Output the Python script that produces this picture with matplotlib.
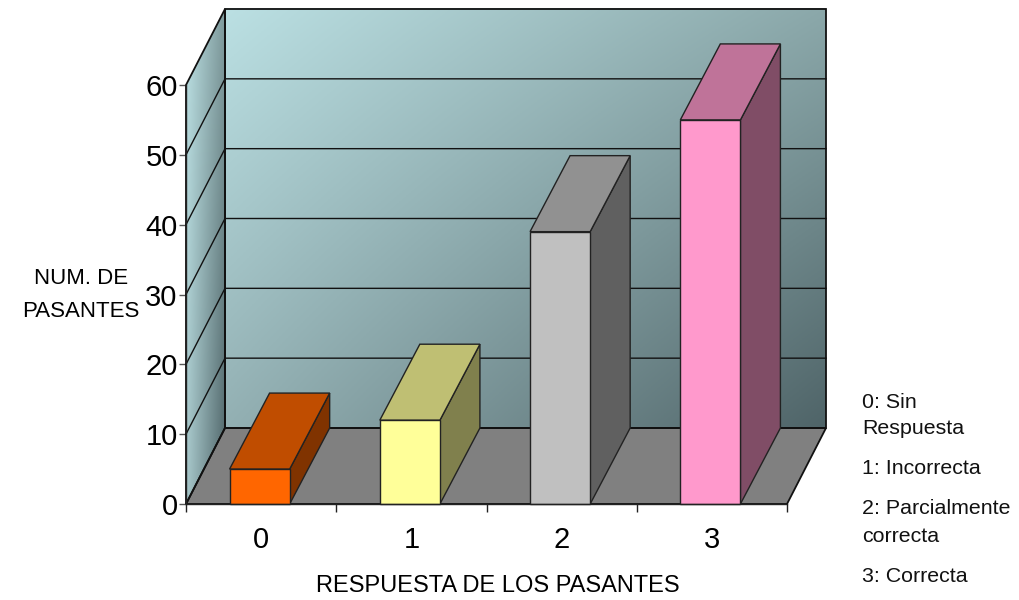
import numpy as np
import matplotlib
matplotlib.use("Agg")
import matplotlib.pyplot as plt
from matplotlib.patches import Polygon

plt.rcParams['font.family'] = ['Liberation Sans', 'DejaVu Sans']

categories = ['0', '1', '2', '3']
values = [5, 12, 39, 55]
face_colors = ['#FF6600', '#FFFF99', '#C0C0C0', '#FF99CC']
top_colors = ['#C04D00', '#BFBF73', '#919191', '#BF7399']
side_colors = ['#803300', '#80804D', '#606060', '#804D66']
y_ticks = [0, 10, 20, 30, 40, 50, 60]
legend_lines = [('0: Sin', 402), ('Respuesta', 429), ('1: Incorrecta', 469),
                ('2: Parcialmente', 509), ('correcta', 536), ('3: Correcta', 576)]

W, H = 1019, 600
fig = plt.figure(figsize=(W / 100, H / 100), dpi=100)
L, R, B, T = 186, 787, 504, 85
ax = fig.add_axes([L / W, 1 - B / H, (R - L) / W, (B - T) / H])
ax.set_xlim(-0.5, 3.5)
ax.set_ylim(0, 60)
ax.patch.set_visible(False)
for s in ['top', 'right']:
    ax.spines[s].set_visible(False)
for s in ['left', 'bottom']:
    ax.spines[s].set_linewidth(1.0)
    ax.spines[s].set_color('#222222')
    ax.spines[s].set_zorder(20)

DX = 39 / ((R - L) / 4)
DY = 76 / ((B - T) / 60)
X0, X1, Y0, Y1 = -0.5, 3.5, 0, 60
LINE = '#111111'


def lerp_image(c_tl, c_tr, c_bl, c_br, n=200):
    cols = [np.array(matplotlib.colors.to_rgb(c)) for c in (c_tl, c_tr, c_bl, c_br)]
    u = np.linspace(0, 1, n)[None, :, None]
    v = np.linspace(0, 1, n)[:, None, None]
    return (cols[0] * (1 - u) * (1 - v) + cols[1] * u * (1 - v)
            + cols[2] * (1 - u) * v + cols[3] * u * v)


# back wall
back_pts = [(X0 + DX, Y0 + DY), (X1 + DX, Y0 + DY), (X1 + DX, Y1 + DY), (X0 + DX, Y1 + DY)]
im = ax.imshow(lerp_image('#BBE0E3', '#8BA8AA', '#93B0B3', '#4F6468'), aspect='auto',
               extent=(X0 + DX, X1 + DX, Y0 + DY, Y1 + DY), origin='upper', zorder=1)
im.set_clip_on(False)

# side wall
side_pts = [(X0, Y0), (X0 + DX, Y0 + DY), (X0 + DX, Y1 + DY), (X0, Y1)]
im2 = ax.imshow(lerp_image('#BBE0E3', '#7F9A9C', '#A8C8CB', '#50666A'), aspect='auto',
                extent=(X0, X0 + DX, Y0, Y1 + DY), origin='upper', zorder=1)
side_clip = Polygon(side_pts, transform=ax.transData, fill=False, edgecolor='none')
ax.add_patch(side_clip)
side_clip.set_clip_on(False)
im2.set_clip_box(fig.bbox)
im2.set_clip_path(side_clip)
ax.set_xlim(-0.5, 3.5)
ax.set_ylim(0, 60)

# floor
ax.add_patch(Polygon([(X0, Y0), (X1, Y0), (X1 + DX, Y0 + DY), (X0 + DX, Y0 + DY)],
                     facecolor='#808080', edgecolor=LINE, lw=1.3, zorder=2, clip_on=False))
# outlines and grid
ax.add_patch(Polygon(back_pts, fill=False, edgecolor=LINE, lw=1.3, zorder=3, clip_on=False))
ax.add_patch(Polygon(side_pts, fill=False, edgecolor=LINE, lw=1.3, zorder=3, clip_on=False))
for t in y_ticks[1:-1]:
    ax.plot([X0, X0 + DX, X1 + DX], [t, t + DY, t + DY], color=LINE, lw=1.0, zorder=3,
            clip_on=False)

# bars
half = 0.2
shift = -0.01
bar_dx = 40 / ((R - L) / 4)
for i, v in enumerate(values):
    x0, x1 = i - half + shift, i + half + shift
    kw = dict(edgecolor='#222222', lw=1.0, zorder=5 + i, clip_on=False, joinstyle='miter')
    ax.add_patch(Polygon([(x1, 0), (x1 + bar_dx, DY), (x1 + bar_dx, v + DY), (x1, v)],
                         facecolor=side_colors[i], **kw))
    ax.add_patch(Polygon([(x0, v), (x1, v), (x1 + bar_dx, v + DY), (x0 + bar_dx, v + DY)],
                         facecolor=top_colors[i], **kw))
    ax.add_patch(Polygon([(x0, 0), (x1, 0), (x1, v), (x0, v)],
                         facecolor=face_colors[i], **kw))

# axes ticks
ax.set_yticks(y_ticks)
ax.set_xticks(np.arange(-0.5, 4, 1))
ax.set_xticklabels([])
ax.set_xticks(range(len(categories)), categories, minor=True)
ax.tick_params(axis='x', which='major', length=6, width=1, color='#222222')
ax.tick_params(axis='x', which='minor', length=0, labelsize=21, pad=16)
ax.tick_params(axis='y', length=5, width=1, color='#555555', labelsize=21, pad=1)

# axis titles
fig.text(498 / W, 1 - 586 / H, 'RESPUESTA DE LOS PASANTES', fontsize=17, ha='center', va='center')
fig.text(81 / W, 1 - 295 / H, 'NUM. DE\nPASANTES', fontsize=16, ha='center', va='center',
         linespacing=1.7)

# notes on the right
for txt, y in legend_lines:
    fig.text(862 / W, 1 - y / H, txt, fontsize=15.4, ha='left', va='center', color='#111111')

fig.savefig('out.png', dpi=100)
